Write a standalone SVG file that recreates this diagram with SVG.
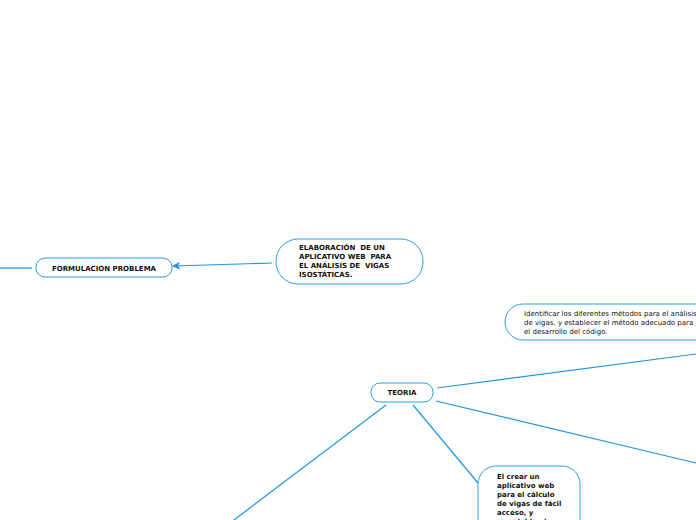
<svg xmlns="http://www.w3.org/2000/svg" width="696" height="520" viewBox="0 0 696 520">
<style>
.box{fill:#fff;stroke:#2d9ee3;stroke-width:1}
.ln{fill:none;stroke:#1e96e0;stroke-width:1.2}
.b{font-family:"DejaVu Sans",Verdana,sans-serif;font-weight:bold;font-size:7px;fill:#111;white-space:pre}
.n{font-family:"DejaVu Sans",Verdana,sans-serif;font-size:7px;fill:#111}
</style>
<defs>
<marker id="ah" markerWidth="8" markerHeight="8" refX="7" refY="4" orient="auto" markerUnits="userSpaceOnUse">
<path d="M0,0 L8,4 L0,8 L2,4 Z" fill="#1e96e0"/>
</marker>
</defs>
<rect width="696" height="520" fill="#fff"/>
<g id="connectors">
<line class="ln" x1="0" y1="268" x2="32" y2="268"/>
<line class="ln" x1="272" y1="263" x2="173" y2="266" marker-end="url(#ah)"/>
<line class="ln" x1="437" y1="388" x2="696" y2="354"/>
<line class="ln" x1="436" y1="401" x2="696" y2="463"/>
<line class="ln" x1="413" y1="405" x2="478" y2="483"/>
<line class="ln" x1="386" y1="405" x2="234" y2="520"/>
</g>
<g id="formulacion">
<rect class="box" x="36" y="258" width="136" height="19" rx="9"/>
<text class="b" x="104" y="270.5" text-anchor="middle">FORMULACION PROBLEMA</text>
</g>
<g id="elaboracion">
<rect class="box" x="276" y="239" width="147" height="45" rx="22"/>
<text class="b" x="299" y="250" xml:space="preserve">ELABORACIÓN  DE UN</text>
<text class="b" x="299" y="259" xml:space="preserve">APLICATIVO WEB  PARA</text>
<text class="b" x="299" y="268" xml:space="preserve">EL ANÁLISIS DE  VIGAS</text>
<text class="b" x="299" y="277">ISOSTÁTICAS.</text>
</g>
<g id="identificar">
<rect class="box" x="505" y="304" width="220" height="36" rx="18"/>
<text class="n" x="524" y="316">Identificar los diferentes métodos para el análisis</text>
<text class="n" x="524" y="325">de vigas, y establecer el método adecuado para</text>
<text class="n" x="524" y="334">el desarrollo del código.</text>
</g>
<g id="teoria">
<rect class="box" x="371" y="383" width="62" height="19" rx="9"/>
<text class="b" x="402" y="395" text-anchor="middle">TEORIA</text>
</g>
<g id="crear">
<rect class="box" x="478" y="466" width="102" height="80" rx="18"/>
<text class="b" x="497" y="479">El crear un</text>
<text class="b" x="497" y="488">aplicativo web</text>
<text class="b" x="497" y="497">para el cálculo</text>
<text class="b" x="497" y="506">de vigas de fácil</text>
<text class="b" x="497" y="515">acceso, y</text>
<text class="b" x="497" y="524">agradable al</text>
</g>
</svg>
